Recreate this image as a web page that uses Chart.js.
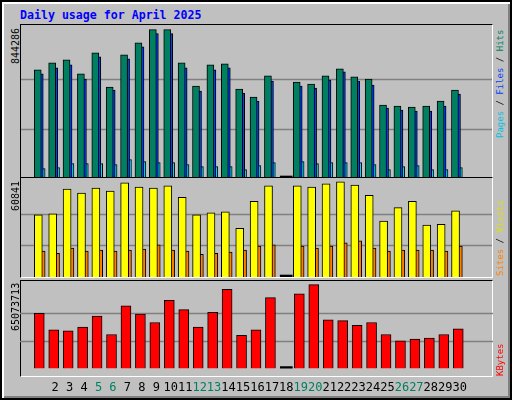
<!DOCTYPE html>
<html>
<head>
<meta charset="utf-8">
<script src="https://cdn.jsdelivr.net/npm/chart.js@4"></script>
<style>
  body { margin: 0; background: #fff; }
  #frame { position: absolute; left: 0; top: 0; width: 508px; height: 396px; background: #C0C0C0;
           border: 2px solid #000; box-shadow: inset 2px 2px 0 #fff, inset -2px -2px 0 #808080; }
  #title { position: absolute; left: 18px; top: 6px; font: bold 11.6px "DejaVu Sans Mono", monospace; color: #0000FF; }
  .panel { position: absolute; left: 18px; width: 471px; border-top: 1px solid #000; border-left: 1px solid #000;
           border-right: 1px solid #fff; border-bottom: 1px solid #fff; }
  .vl { position: absolute; font: 10px "DejaVu Sans Mono", monospace; white-space: nowrap;
        transform-origin: left top; transform: rotate(-90deg); }
  .vr { font-size: 9px; }
  canvas { position: absolute; left: 0; top: 0; }
</style>
</head>
<body>
<div id="frame">
  <div id="title">Daily usage for April 2025</div>
  <div class="panel" style="top:22px;height:152px"><canvas id="c1"></canvas></div>
  <div class="panel" style="top:175px;height:99px"><canvas id="c2"></canvas></div>
  <div class="panel" style="top:278px;height:95px"></div>
  <div style="position:absolute;left:18px;top:279px;width:473px;height:118px"><canvas id="c3"></canvas></div>

  <div class="vl" style="left:8px;top:62px">844286</div>
  <div class="vl" style="left:8px;top:209px">60841</div>
  <div class="vl" style="left:8px;top:329px">65073713</div>

  <div class="vl vr" style="left:493px;top:136px"><span style="color:#00C0E0">Pages</span> / <span style="color:#0040FF">Files</span> / <span style="color:#008060">Hits</span></div>
  <div class="vl vr" style="left:493px;top:274px"><span style="color:#FF8000">Sites</span> / <span style="color:#E0E000">Visits</span></div>
  <div class="vl vr" style="left:493px;top:374px"><span style="color:#FF0000">KBytes</span></div>
</div>
<script>
const days = [1,2,3,4,5,6,7,8,9,10,11,12,13,14,15,16,17,18,19,20,21,22,23,24,25,26,27,28,29,30,31];
const weekends = [5,6,12,13,19,20,26,27];

const hits = [615000,655200,672400,592200,712500,517700,701000,769800,844286,844286,655200,523400,643700,649500,506200,460400,580700,0,546300,534900,580700,620800,575000,563500,414500,408800,403100,408800,437400,500500,null];
const files = [592100,626500,643700,563500,689600,500500,678100,746900,821400,821400,626500,494700,615000,626500,483300,437400,552000,0,523400,511900,557800,603600,552000,529100,397300,385900,380100,380100,408800,477500,null];
const pages = [53500,59200,82100,82100,82100,76400,105100,93600,87900,87900,76400,64900,64900,64900,47800,70700,87900,0,93600,82100,87900,87900,87900,76400,47800,64900,70700,47800,47800,59200,null];
const visits = [39700,40300,56200,53600,56900,54900,60200,57500,56900,58200,50900,39700,41000,41700,31100,48300,58200,0,58200,57500,59500,60841,58800,52200,35700,44300,48300,33100,33700,42300,null];
const sites = [16500,15200,18500,16500,17200,16500,17200,17900,20500,17200,16500,14500,15200,15900,17200,19800,20500,0,19800,18500,19800,21800,23100,18500,16500,17200,17200,17200,16500,19800,null];
const kbytes = [42905700,30034000,29318900,32179300,40760400,26458500,48626500,42190600,35754800,52917000,45766100,32179300,43620800,61498200,25743400,30034000,55062300,0,57922700,65073713,37900000,37185000,33609500,35754800,26458500,21452900,22883000,23598100,26458500,30749100,null];

const maxHits = 844286, maxVisits = 60841, maxKB = 65073713;

function pts(arr, shift) {
  return days.map((d, i) => arr[i] ? {x: d + shift, y: arr[i]} : null).filter(p => p);
}
function zeros(arr) {
  return days.map((d, i) => arr[i] === 0 ? {x: d, y: 0} : null).filter(p => p);
}
function bar(label, data, color, thick) {
  return { label, data, backgroundColor: color, borderColor: '#000', borderWidth: 1,
           barThickness: thick, grouped: false, borderSkipped: 'bottom' };
}
function zeroBar(arr) {
  return { data: zeros(arr), backgroundColor: '#000', barThickness: 12, minBarLength: 2, grouped: false };
}

// gridlines at thirds of the max value
const thirds = {
  id: 'thirds',
  beforeDatasetsDraw(chart, args, opts) {
    const {ctx, chartArea, scales} = chart;
    ctx.save();
    ctx.strokeStyle = '#808080';
    ctx.lineWidth = 1.5;
    [1, 2].forEach(k => {
      const y = Math.round(scales.y.getPixelForValue(opts.max * k / 3)) + 0.5;
      ctx.beginPath(); ctx.moveTo(chartArea.left, y); ctx.lineTo(chartArea.right, y); ctx.stroke();
    });
    ctx.restore();
  }
};

function makeChart(id, w, h, datasets, ymax, gridMax, showX) {
  const c = document.getElementById(id);
  c.width = w; c.height = h;
  return new Chart(c, {
    type: 'bar',
    data: { datasets },
    plugins: [thirds],
    options: {
      responsive: false, animation: false,
      layout: { padding: 0 },
      plugins: { legend: { display: false }, tooltip: { enabled: false }, thirds: { max: gridMax } },
      scales: {
        x: { type: 'linear', min: 0.13, max: 31.74, display: showX,
             grid: { display: false }, border: { display: false },
             afterBuildTicks: s => { s.ticks = s.ticks.filter(t => Number.isInteger(t.value)); },
             ticks: { stepSize: 1, autoSkip: false, maxRotation: 0, padding: 4,
                      font: { family: 'DejaVu Sans Mono', size: 12 },
                      color: ctx => weekends.includes(ctx.tick.value) ? '#008060' : '#000' } },
        y: { display: false, min: 0, max: ymax }
      }
    }
  });
}

makeChart('c1', 471, 153, [
  bar('Hits', pts(hits, -0.27), '#008060', 7),
  bar('Files', pts(files, -0.13), '#0040FF', 7),
  bar('Pages', pts(pages, 0), '#00E0FF', 7),
  zeroBar(hits)
], 870600, maxHits, false);

makeChart('c2', 471, 99, [
  bar('Visits', pts(visits, -0.23), '#FFFF00', 8),
  bar('Sites', pts(sites, 0), '#FF8000', 7),
  zeroBar(visits)
], 63266, maxVisits, false);

makeChart('c3', 473, 118, [
  bar('KBytes', pts(kbytes, -0.1), '#FF0000', 10),
  zeroBar(kbytes)
], 67934000, maxKB, true);
</script>
</body>
</html>
